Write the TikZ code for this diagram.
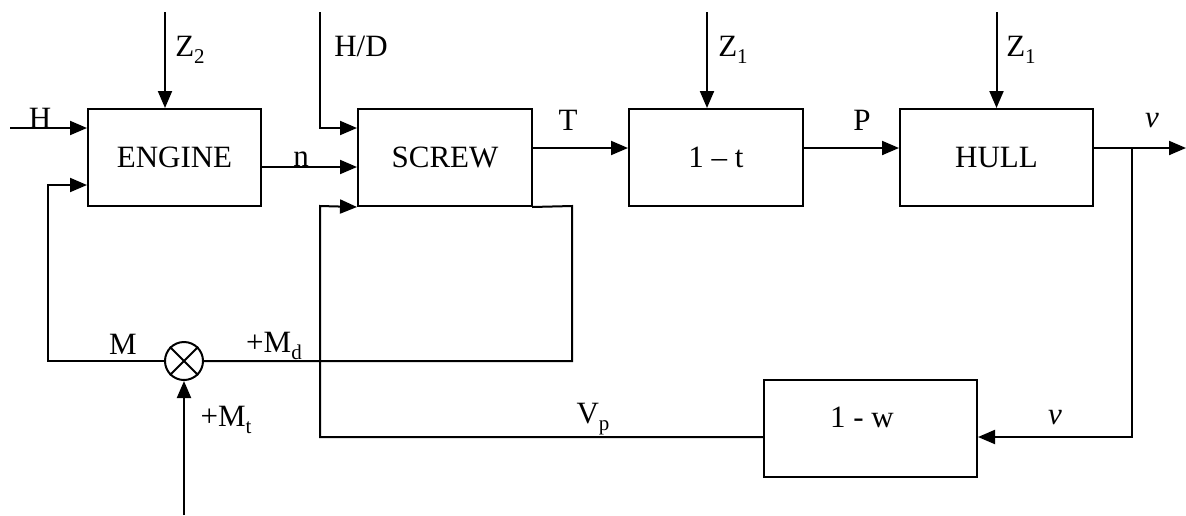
\documentclass[tikz,border=0pt]{standalone}
\usepackage{fontspec}
\setmainfont{Liberation Serif}
\usetikzlibrary{arrows.meta}
\newcommand\sbx[1]{\raisebox{-0.22em}{\fontsize{21}{21}\selectfont #1}}
\begin{document}
\begin{tikzpicture}[x=1pt,y=-1pt,line width=2pt,
  every node/.style={font=\fontsize{31}{36}\selectfont, inner sep=0pt},
  blk/.style={draw, rectangle, minimum height=97pt},
  arr/.style={-{Triangle[length=17pt,width=14pt]}},
  lbl/.style={anchor=center}]
\useasboundingbox (0,0) rectangle (1186,515);
% blocks
\node[blk, minimum width=173pt] (engine) at (174.5,157.5) {ENGINE};
\node[blk, minimum width=174pt] (screw) at (445,157.5) {SCREW};
\node[blk, minimum width=174pt] (onet) at (716,157.5) {1 \textendash\ t};
\node[blk, minimum width=193pt] (hull) at (996.5,157.5) {HULL};
\node[blk, minimum width=213pt] (onew) at (870.5,428.5) {};
\node[lbl] (onewtext) at (862,417) {1 - w};
\node[draw, circle, minimum size=38pt] (sum) at (184,361) {};
\draw (sum.45) -- (sum.225) (sum.135) -- (sum.315);
% coordinates
\coordinate (z2s) at (165,12);
\coordinate (hs) at (10,128);
\coordinate (hds) at (320,12);
\coordinate (z1a) at (707,12);
\coordinate (z1b) at (996.5,12);
\coordinate (vend) at (1186,148);
\coordinate (br) at (1132,148);
\coordinate (mts) at (184,515);
% connectors
\draw[arr] (z2s) -- (z2s |- engine.north);
\draw[arr] (hs) -- (engine.west |- hs);
\draw[arr] ([yshift=-9.5pt]engine.east) -- ([yshift=-9.5pt]screw.west);
\draw[arr] (hds) -- (320,128) -- (screw.west |- 0,128);
\draw[arr] ([yshift=9.5pt]screw.east) -- ([yshift=9.5pt]onet.west);
\draw[arr] (z1a) -- (z1a |- onet.north);
\draw[arr] ([yshift=9.5pt]onet.east) -- ([yshift=9.5pt]hull.west);
\draw[arr] (z1b) -- (hull.north);
\draw[arr] ([yshift=9.5pt]hull.east) -- (vend);
\draw[arr] (br) -- (br |- 0,437) -- ([yshift=-8.5pt]onew.east);
\draw[arr] ([yshift=-8.5pt]onew.west) -- (320,437) -- (320,206) -- (screw.south west);
\draw ([xshift=-1pt]screw.south east) -- (572,206) -- (572,361) -- (sum.east);
\draw[arr] (sum.west) -- (48,361) -- (48,185) -- (engine.west |- 0,185);
\draw[arr] (mts) -- (sum.south);
% labels
\node[lbl] (lh) at (40,118) {H};
\node[lbl] (lz2) at (190,50) {Z\sbx{2}};
\node[lbl] (lhd) at (361,46) {H/D};
\node[lbl] (ln) at (301,159) {n};
\node[lbl] (lt) at (568,120) {T};
\node[lbl] (lz1a) at (733,50) {Z\sbx{1}};
\node[lbl] (lp) at (862,120) {P};
\node[lbl] (lz1b) at (1021,50) {Z\sbx{1}};
\node[lbl] (lv1) at (1152,121) {\textit{v}};
\node[lbl] (lv2) at (1055,418) {\textit{v}};
\node[lbl] (lm) at (123,344) {M};
\node[lbl] (lmd) at (274,346) {+M\sbx{d}};
\node[lbl] (lmt) at (226,420) {+M\sbx{t}};
\node[lbl] (lvp) at (593,419) {V\sbx{p}};
\end{tikzpicture}
\end{document}
